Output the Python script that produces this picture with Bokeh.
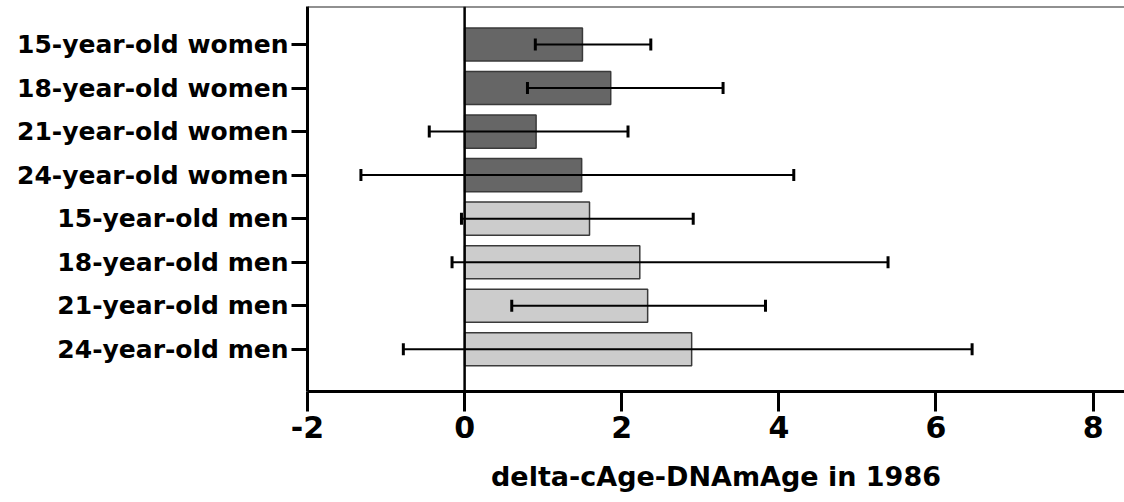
from bokeh.plotting import figure
from bokeh.models import ColumnDataSource, Whisker, TeeHead, Span, FixedTicker, Range1d
from bokeh.embed import file_html
from bokeh.resources import INLINE

categories = ["15-year-old women", "18-year-old women", "21-year-old women", "24-year-old women",
              "15-year-old men", "18-year-old men", "21-year-old men", "24-year-old men"]
groups = ["women", "women", "women", "women", "men", "men", "men", "men"]
means = [1.50, 1.86, 0.91, 1.49, 1.59, 2.23, 2.33, 2.89]
lower = [0.90, 0.80, -0.45, -1.32, -0.04, -0.16, 0.60, -0.78]
upper = [2.37, 3.29, 2.08, 4.19, 2.91, 5.39, 3.83, 6.46]
x_ticks = [-2, 0, 2, 4, 6, 8]

group_colors = {"women": "#666666", "men": "#cccccc"}
n = len(categories)
ypos = [n - i for i in range(n)]

src = ColumnDataSource(dict(
    y=ypos, cat=categories, mean=means, lower=lower, upper=upper,
    color=[group_colors[g] for g in groups],
))

FONT = "DejaVu Sans"

p = figure(width=1124, height=502, output_backend="svg", toolbar_location=None,
           x_range=Range1d(-2, 8.40), y_range=Range1d(0.03, 8.873),
           min_border_left=307, min_border_right=0, min_border_top=6, min_border_bottom=111)

p.hbar(y="y", left=0, right="mean", height=0.76, source=src, fill_color="color",
       line_color="#3a3a3a", line_width=1.5)

w = Whisker(base="y", lower="lower", upper="upper", dimension="width", source=src,
            line_color="black", line_width=2, level="overlay",
            upper_head=TeeHead(size=12, line_width=3, line_color="black"),
            lower_head=TeeHead(size=12, line_width=3, line_color="black"))
p.add_layout(w)

p.add_layout(Span(location=0, dimension="height", line_color="black", line_width=2.5))
p.add_layout(Span(location=8.873, dimension="width", line_color="#222222", line_width=2))

p.outline_line_color = None
p.grid.grid_line_color = None
p.background_fill_color = "white"
p.border_fill_color = "white"

p.xaxis.ticker = FixedTicker(ticks=x_ticks)
p.xaxis.major_label_overrides = {t: str(t) for t in x_ticks}
p.xaxis.axis_label = "delta-cAge-DNAmAge in 1986"
p.yaxis.ticker = FixedTicker(ticks=ypos)
p.yaxis.major_label_overrides = {y: c for y, c in zip(ypos, categories)}

for ax in (p.xaxis[0], p.yaxis[0]):
    ax.axis_line_width = 3
    ax.axis_line_color = "black"
    ax.major_tick_line_width = 3
    ax.major_tick_line_color = "black"
    ax.major_tick_in = 0
    ax.minor_tick_line_color = None
    ax.major_label_text_font = FONT
    ax.major_label_text_font_style = "bold"
    ax.major_label_text_color = "black"

p.xaxis.major_tick_out = 20
p.xaxis.major_label_text_font_size = "30px"
p.xaxis.major_label_standoff = 4
p.xaxis.axis_label_text_font = FONT
p.xaxis.axis_label_text_font_style = "bold"
p.xaxis.axis_label_text_font_size = "27px"
p.xaxis.axis_label_text_color = "black"
p.xaxis.axis_label_standoff = 20

p.yaxis.major_tick_out = 16
p.yaxis.major_label_text_font_size = "25px"
p.yaxis.major_label_standoff = 3

open("out.html", "w").write(file_html(p, INLINE))
